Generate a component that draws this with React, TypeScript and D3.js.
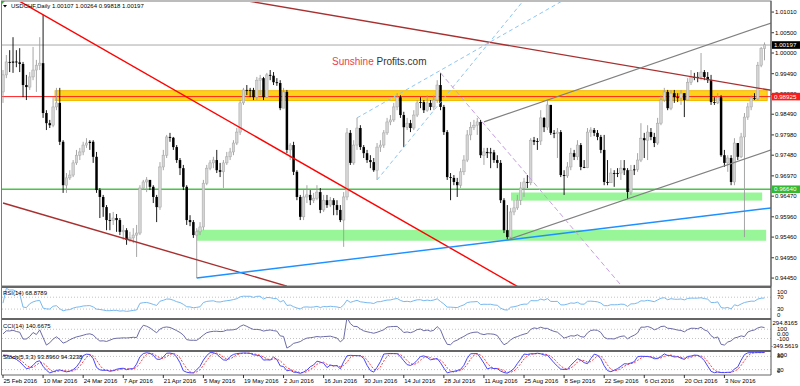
import React from 'react';
import * as d3 from 'd3';

// USDCHF daily, 25 Feb 2016 .. 17 Nov 2016 (6 bars a week, Sunday bars included)
const firstOpen = 0.9904;

const closes = [
  0.9946, 0.9978, 0.9976, 0.9979, 0.9977, 0.9973, 0.9921, 0.9916, 0.9941, 0.9958,
  0.9970, 0.9975, 0.9852, 0.9827, 0.9822, 0.9867, 0.9877, 0.9781, 0.9674, 0.9692,
  0.9699, 0.9729, 0.9748, 0.9756, 0.9773, 0.9778, 0.9781, 0.9744, 0.9662, 0.9645,
  0.9620, 0.9588, 0.9587, 0.9593, 0.9588, 0.9559, 0.9563, 0.9539, 0.9544, 0.9551,
  0.9556, 0.9667, 0.9682, 0.9687, 0.9670, 0.9645, 0.9620, 0.9719, 0.9748, 0.9793,
  0.9791, 0.9768, 0.9736, 0.9716, 0.9670, 0.9588, 0.9583, 0.9551, 0.9559, 0.9571,
  0.9679, 0.9716, 0.9729, 0.9736, 0.9711, 0.9707, 0.9729, 0.9744, 0.9756, 0.9778,
  0.9805, 0.9877, 0.9909, 0.9907, 0.9909, 0.9891, 0.9933, 0.9938, 0.9891, 0.9946,
  0.9944, 0.9928, 0.9926, 0.9864, 0.9904, 0.9761, 0.9773, 0.9707, 0.9645, 0.9596,
  0.9645, 0.9650, 0.9637, 0.9642, 0.9657, 0.9613, 0.9637, 0.9625, 0.9637, 0.9625,
  0.9613, 0.9588, 0.9645, 0.9803, 0.9729, 0.9773, 0.9815, 0.9768, 0.9753, 0.9736,
  0.9731, 0.9711, 0.9768, 0.9773, 0.9803, 0.9830, 0.9835, 0.9867, 0.9891, 0.9847,
  0.9817, 0.9827, 0.9815, 0.9847, 0.9877, 0.9879, 0.9859, 0.9877, 0.9867, 0.9884,
  0.9921, 0.9867, 0.9805, 0.9694, 0.9692, 0.9682, 0.9674, 0.9707, 0.9736, 0.9798,
  0.9817, 0.9822, 0.9830, 0.9748, 0.9756, 0.9753, 0.9755, 0.9736, 0.9729, 0.9637,
  0.9563, 0.9546, 0.9608, 0.9618, 0.9637, 0.9667, 0.9682, 0.9680, 0.9785, 0.9781,
  0.9783, 0.9840, 0.9817, 0.9872, 0.9803, 0.9801, 0.9805, 0.9699, 0.9697, 0.9719,
  0.9753, 0.9744, 0.9773, 0.9719, 0.9717, 0.9805, 0.9810, 0.9803, 0.9793, 0.9761,
  0.9682, 0.9680, 0.9704, 0.9702, 0.9704, 0.9716, 0.9711, 0.9657, 0.9711, 0.9713,
  0.9736, 0.9790, 0.9785, 0.9805, 0.9793, 0.9778, 0.9827, 0.9884, 0.9904, 0.9864,
  0.9901, 0.9891, 0.9889, 0.9901, 0.9884, 0.9928, 0.9941, 0.9939, 0.9941, 0.9953,
  0.9941, 0.9933, 0.9879, 0.9877, 0.9891, 0.9748, 0.9729, 0.9741, 0.9682, 0.9778,
  0.9744, 0.9793, 0.9842, 0.9867, 0.9889, 0.9887, 0.9970, 1.0011, 1.0020,
];

const highs = [
  0.9958, 0.9995, 1.0007, 1.0039, 1.0007, 1.0012, 0.9978, 0.9946, 0.9953, 1.0015,
  0.9983, 1.0039, 1.0094, 0.9859, 0.9835, 0.9891, 0.9914, 0.9914, 0.9785, 0.9704,
  0.9711, 0.9736, 0.9761, 0.9766, 0.9781, 0.9790, 0.9785, 0.9785, 0.9756, 0.9667,
  0.9650, 0.9625, 0.9605, 0.9608, 0.9603, 0.9593, 0.9576, 0.9568, 0.9559, 0.9568,
  0.9576, 0.9674, 0.9687, 0.9694, 0.9682, 0.9674, 0.9650, 0.9731, 0.9761, 0.9798,
  0.9803, 0.9793, 0.9773, 0.9741, 0.9724, 0.9674, 0.9600, 0.9588, 0.9568, 0.9583,
  0.9687, 0.9724, 0.9736, 0.9744, 0.9761, 0.9729, 0.9736, 0.9756, 0.9766, 0.9785,
  0.9815, 0.9884, 0.9914, 0.9921, 0.9914, 0.9914, 0.9941, 0.9946, 0.9941, 0.9951,
  0.9958, 0.9953, 0.9938, 0.9933, 0.9914, 0.9909, 0.9778, 0.9781, 0.9711, 0.9650,
  0.9662, 0.9674, 0.9662, 0.9655, 0.9674, 0.9667, 0.9650, 0.9650, 0.9645, 0.9642,
  0.9637, 0.9625, 0.9657, 0.9815, 0.9810, 0.9785, 0.9840, 0.9822, 0.9773, 0.9761,
  0.9748, 0.9741, 0.9778, 0.9785, 0.9810, 0.9840, 0.9847, 0.9877, 0.9901, 0.9896,
  0.9855, 0.9840, 0.9835, 0.9859, 0.9884, 0.9891, 0.9884, 0.9896, 0.9884, 0.9896,
  0.9933, 0.9951, 0.9872, 0.9810, 0.9704, 0.9699, 0.9692, 0.9716, 0.9748, 0.9810,
  0.9830, 0.9835, 0.9840, 0.9835, 0.9766, 0.9766, 0.9766, 0.9761, 0.9748, 0.9736,
  0.9642, 0.9625, 0.9618, 0.9637, 0.9650, 0.9682, 0.9692, 0.9699, 0.9790, 0.9793,
  0.9790, 0.9859, 0.9842, 0.9884, 0.9872, 0.9810, 0.9815, 0.9810, 0.9711, 0.9731,
  0.9766, 0.9761, 0.9785, 0.9778, 0.9736, 0.9815, 0.9817, 0.9815, 0.9810, 0.9798,
  0.9798, 0.9736, 0.9716, 0.9711, 0.9716, 0.9736, 0.9736, 0.9716, 0.9724, 0.9724,
  0.9753, 0.9827, 0.9803, 0.9822, 0.9815, 0.9803, 0.9840, 0.9896, 0.9914, 0.9909,
  0.9909, 0.9909, 0.9901, 0.9909, 0.9901, 0.9938, 0.9958, 0.9951, 0.9953, 1.0000,
  0.9958, 0.9953, 0.9946, 0.9891, 0.9901, 0.9896, 0.9761, 0.9748, 0.9748, 0.9790,
  0.9778, 0.9803, 0.9852, 0.9877, 0.9896, 0.9901, 0.9978, 1.0015, 1.0026,
];

const lows = [
  0.9877, 0.9938, 0.9953, 0.9951, 0.9965, 0.9953, 0.9891, 0.9884, 0.9909, 0.9933,
  0.9904, 0.9958, 0.9840, 0.9810, 0.9815, 0.9817, 0.9859, 0.9773, 0.9655, 0.9655,
  0.9687, 0.9694, 0.9724, 0.9736, 0.9748, 0.9766, 0.9761, 0.9729, 0.9655, 0.9593,
  0.9596, 0.9563, 0.9563, 0.9576, 0.9559, 0.9551, 0.9539, 0.9527, 0.9534, 0.9531,
  0.9497, 0.9551, 0.9662, 0.9657, 0.9662, 0.9630, 0.9583, 0.9613, 0.9711, 0.9741,
  0.9781, 0.9761, 0.9729, 0.9699, 0.9662, 0.9576, 0.9573, 0.9544, 0.9445, 0.9551,
  0.9563, 0.9674, 0.9711, 0.9716, 0.9704, 0.9694, 0.9667, 0.9724, 0.9736, 0.9748,
  0.9773, 0.9798, 0.9872, 0.9896, 0.9891, 0.9884, 0.9884, 0.9896, 0.9884, 0.9889,
  0.9933, 0.9921, 0.9919, 0.9859, 0.9864, 0.9753, 0.9736, 0.9699, 0.9637, 0.9588,
  0.9588, 0.9630, 0.9625, 0.9630, 0.9637, 0.9605, 0.9608, 0.9618, 0.9620, 0.9600,
  0.9600, 0.9583, 0.9522, 0.9637, 0.9724, 0.9724, 0.9761, 0.9761, 0.9741, 0.9729,
  0.9716, 0.9707, 0.9687, 0.9756, 0.9766, 0.9798, 0.9822, 0.9830, 0.9859, 0.9840,
  0.9768, 0.9810, 0.9805, 0.9810, 0.9842, 0.9864, 0.9852, 0.9855, 0.9859, 0.9859,
  0.9877, 0.9859, 0.9798, 0.9687, 0.9637, 0.9674, 0.9645, 0.9667, 0.9699, 0.9731,
  0.9785, 0.9810, 0.9798, 0.9741, 0.9724, 0.9741, 0.9716, 0.9729, 0.9716, 0.9630,
  0.9556, 0.9539, 0.9544, 0.9600, 0.9613, 0.9625, 0.9645, 0.9667, 0.9674, 0.9773,
  0.9761, 0.9773, 0.9805, 0.9810, 0.9798, 0.9790, 0.9741, 0.9694, 0.9650, 0.9692,
  0.9711, 0.9736, 0.9736, 0.9711, 0.9716, 0.9716, 0.9793, 0.9795, 0.9785, 0.9753,
  0.9674, 0.9674, 0.9687, 0.9670, 0.9694, 0.9687, 0.9699, 0.9640, 0.9650, 0.9699,
  0.9707, 0.9731, 0.9741, 0.9736, 0.9785, 0.9768, 0.9773, 0.9822, 0.9879, 0.9859,
  0.9859, 0.9877, 0.9879, 0.9872, 0.9842, 0.9884, 0.9921, 0.9933, 0.9928, 0.9933,
  0.9933, 0.9926, 0.9872, 0.9872, 0.9874, 0.9744, 0.9719, 0.9707, 0.9674, 0.9674,
  0.9736, 0.9741, 0.9546, 0.9835, 0.9859, 0.9884, 0.9884, 0.9965, 0.9982,
];

// one label every 12 bars
const dateLabels = [
  '25 Feb 2016', '10 Mar 2016', '24 Mar 2016', '7 Apr 2016', '21 Apr 2016',
  '5 May 2016', '19 May 2016', '2 Jun 2016', '16 Jun 2016', '30 Jun 2016',
  '14 Jul 2016', '28 Jul 2016', '11 Aug 2016', '25 Aug 2016', '8 Sep 2016',
  '22 Sep 2016', '6 Oct 2016', '20 Oct 2016', '3 Nov 2016',
];
const labelStep = 12;

const priceTicks = [
  '1.01010', '1.00500', '1.00000', '0.99490', '0.98980', '0.98490', '0.97980',
  '0.97480', '0.96970', '0.96470', '0.95960', '0.95460', '0.94950', '0.94450',
];

const lastPrice = 1.00197;
const redLevel = 0.98925;
const greenLevel = 0.9664;

// drawn objects: [bar, price] anchors
const brownUpper = [[60, 1.0147], [230, 0.9908]];
const brownLower = [[0, 0.963], [85, 0.9425]];
const redTrend = [[0, 1.0151], [160, 0.9396]];
const blueTrend = [[58, 0.9445], [230, 0.9618]];
const grayUpper = [[144, 0.983], [230, 1.0074]];
const grayLower = [[151, 0.9539], [230, 0.9761]];
const dashBlueA = [[106, 0.984], [168, 1.0131]];
const dashBlueB = [[112, 0.9687], [156, 1.0131]];
const dashPurple = [[131, 0.9951], [186, 0.9418]];

const yellowZone = { bars: [15.6, 228.8], prices: [0.9883, 0.9907] };
const greenZoneLow = { bars: [58.1, 228.5], prices: [0.9537, 0.9564] };
const greenZoneHigh = { bars: [152.1, 227.3], prices: [0.9636, 0.9656] };

const FONT = "'Liberation Sans', Arial, sans-serif";

function calcRSI(c: number[], n: number) {
  const out = [50];
  let ag = 0, al = 0;
  for (let i = 1; i < c.length; i++) {
    const ch = c[i] - c[i - 1];
    const k = Math.min(i, n);
    ag = (ag * (k - 1) + Math.max(ch, 0)) / k;
    al = (al * (k - 1) + Math.max(-ch, 0)) / k;
    out.push(al === 0 ? 100 : 100 - 100 / (1 + ag / al));
  }
  return out;
}

function calcCCI(h: number[], l: number[], c: number[], n: number) {
  const tp = c.map((v, i) => (h[i] + l[i] + v) / 3);
  return tp.map((v, i) => {
    const w = tp.slice(Math.max(0, i - n + 1), i + 1);
    const m = d3.mean(w) as number;
    const md = d3.mean(w, (t) => Math.abs(t - m)) as number;
    return md === 0 ? 0 : (v - m) / (0.015 * md);
  });
}

function calcStoch(h: number[], l: number[], c: number[], k: number, slow: number, d: number) {
  const num: number[] = [], den: number[] = [];
  c.forEach((v, i) => {
    const lo = d3.min(l.slice(Math.max(0, i - k + 1), i + 1)) as number;
    const hi = d3.max(h.slice(Math.max(0, i - k + 1), i + 1)) as number;
    num.push(v - lo);
    den.push(hi - lo);
  });
  const main = c.map((_, i) => {
    const a = d3.sum(num.slice(Math.max(0, i - slow + 1), i + 1));
    const b = d3.sum(den.slice(Math.max(0, i - slow + 1), i + 1));
    return b === 0 ? 50 : (a / b) * 100;
  });
  const signal = main.map((_, i) => d3.mean(main.slice(Math.max(0, i - d + 1), i + 1)) as number);
  return { main, signal };
}

const App: React.FC = () => {
  const W = 800, H = 386;
  const right = 771;

  const x = d3.scaleLinear().domain([0, closes.length - 1]).range([3, 764.5]);
  const y = d3.scaleLinear().domain([0.94254, 1.01258]).range([286, 2]);
  const rsiY = d3.scaleLinear().domain([0, 100]).range([318, 288.3]);
  const cciY = d3.scaleLinear().domain([-349.5619, 294.8165]).range([350, 320.3]);
  const stoY = d3.scaleLinear().domain([0, 100]).range([374, 352]);

  const bars = closes.map((c, i) => {
    const o = i === 0 ? firstOpen : closes[i - 1];
    return { o, c, h: Math.max(highs[i], o, c), l: Math.min(lows[i], o, c) };
  });
  const hh = bars.map((b) => b.h);
  const ll = bars.map((b) => b.l);

  const rsi = calcRSI(closes, 14);
  const cci = calcCCI(hh, ll, closes, 14);
  const sto = calcStoch(hh, ll, closes, 5, 3, 3);

  const seg = (pts: number[][]) =>
    d3.line<number[]>().x((p) => x(p[0])).y((p) => y(p[1]))(pts) || '';
  const ind = (vals: number[], sc: d3.ScaleLinear<number, number>) =>
    d3.line<number>().x((_, i) => x(i)).y((v) => sc(v))(vals) || '';

  const zone = (z: { bars: number[]; prices: number[] }, fill: string, stroke?: string) => (
    <rect
      x={x(z.bars[0])}
      y={y(z.prices[1])}
      width={x(z.bars[1]) - x(z.bars[0])}
      height={y(z.prices[0]) - y(z.prices[1])}
      fill={fill}
      stroke={stroke || 'none'}
      strokeWidth={1}
    />
  );

  const priceBox = (v: number, fill: string, label: string) => (
    <g>
      <rect x={right + 1} y={y(v) - 3.8} width={28} height={7.6} fill={fill} />
      <text x={right + 3} y={y(v) + 2.2} fontSize={6.2} fill="#fff" fontFamily={FONT}>{label}</text>
    </g>
  );

  const sideLabel = (txt: string, yy: number, dx = 6) => (
    <text key={txt + yy} x={right + dx} y={yy + 2} fontSize={6} fill="#000" fontFamily={FONT}>{txt}</text>
  );

  return (
    <svg width={W} height={H} style={{ position: 'absolute', left: 0, top: 0, background: '#fff' }}>
      <defs>
        <clipPath id="mainClip"><rect x={2} y={2} width={right - 2} height={284} /></clipPath>
        <clipPath id="rsiClip"><rect x={2} y={288} width={right - 2} height={30} /></clipPath>
        <clipPath id="cciClip"><rect x={2} y={320} width={right - 2} height={30} /></clipPath>
        <clipPath id="stoClip"><rect x={2} y={352} width={right - 2} height={22} /></clipPath>
      </defs>

      {/* main price window */}
      <g clipPath="url(#mainClip)">
        {zone(greenZoneLow, '#98f598')}
        {zone(greenZoneHigh, '#98f598')}
        {zone(yellowZone, '#ffd21a', '#f7b500')}
        <line x1={0} x2={right} y1={y(lastPrice)} y2={y(lastPrice)} stroke="#a8a8a8" strokeWidth={1} />
        <line x1={0} x2={right} y1={y(redLevel)} y2={y(redLevel)} stroke="#ff2020" strokeWidth={1} />
        <line x1={0} x2={right} y1={y(greenLevel)} y2={y(greenLevel)} stroke="#4cc44c" strokeWidth={1.6} />

        {bars.map((b, i) => {
          const cx = x(i);
          const bull = b.c >= b.o;
          const top = y(Math.max(b.o, b.c));
          const bh = Math.max(y(Math.min(b.o, b.c)) - top, 0.9);
          const doji = Math.abs(b.c - b.o) < 0.0003;
          return (
            <g key={i}>
              <line x1={cx} x2={cx} y1={y(b.h)} y2={y(b.l)} stroke={bull && !doji ? '#9c9c9c' : '#000'} strokeWidth={0.9} />
              <rect
                x={cx - 1.25}
                y={top}
                width={2.5}
                height={bh}
                fill={doji ? '#000' : bull ? '#d4d4d4' : '#000'}
                stroke={bull && !doji ? '#a4a4a4' : 'none'}
                strokeWidth={0.5}
              />
            </g>
          );
        })}

        <path d={seg(brownLower)} stroke="#a83030" strokeWidth={1.4} fill="none" />
        <path d={seg(brownUpper)} stroke="#a83030" strokeWidth={1.4} fill="none" />
        <path d={seg(redTrend)} stroke="#ff0000" strokeWidth={1.4} fill="none" />
        <path d={seg(blueTrend)} stroke="#1e90ff" strokeWidth={1.4} fill="none" />
        <path d={seg(grayUpper)} stroke="#808080" strokeWidth={1.2} fill="none" />
        <path d={seg(grayLower)} stroke="#808080" strokeWidth={1.2} fill="none" />
        <path d={seg(dashBlueA)} stroke="#8cc6f5" strokeWidth={1} strokeDasharray="4,3" fill="none" />
        <path d={seg(dashBlueB)} stroke="#8cc6f5" strokeWidth={1} strokeDasharray="4,3" fill="none" />
        <path d={seg(dashPurple)} stroke="#c6a0e0" strokeWidth={1} strokeDasharray="5,3" fill="none" />
      </g>

      <text x={332} y={65} fontSize={10} fontFamily={FONT}>
        <tspan fill="#e8434b">Sunshine </tspan>
        <tspan fill="#333">Profits.com</tspan>
      </text>

      <path d="M3,5 L7,5 L5,7.5 Z" fill="#000" />
      <path d="M1,1 L5,1 L1,5 Z" fill="#3cb43c" />
      <text x={11} y={8} fontSize={6} fontFamily={FONT} fill="#000">
        USDCHF,Daily  1.00107 1.00264 0.99818 1.00197
      </text>

      {/* price axis */}
      {priceTicks.map((t) => (
        <g key={t}>
          <line x1={right} x2={right + 3} y1={y(+t)} y2={y(+t)} stroke="#000" strokeWidth={0.8} />
          <text x={right + 4} y={y(+t) + 2.1} fontSize={6} fontFamily={FONT} fill="#000">{t}</text>
        </g>
      ))}
      {priceBox(lastPrice, '#000', '1.00197')}
      {priceBox(redLevel, '#ff1a1a', '0.98925')}
      {priceBox(greenLevel, '#33b833', '0.96640')}

      {/* RSI */}
      {[70, 30].map((v) => (
        <line key={v} x1={2} x2={right} y1={rsiY(v)} y2={rsiY(v)} stroke="#b4b4b4" strokeDasharray="1,2" strokeWidth={0.8} />
      ))}
      <g clipPath="url(#rsiClip)">
        <path d={ind(rsi, rsiY)} stroke="#78b8f0" strokeWidth={1} fill="none" />
      </g>
      <text x={3} y={294.5} fontSize={6} fontFamily={FONT}>RSI(14) 68.8789</text>
      {sideLabel('100', 291.7)}
      {sideLabel('70', 297.3)}
      {sideLabel('30', 309.3)}
      {sideLabel('0', 315)}

      {/* CCI */}
      {[100, -100].map((v) => (
        <line key={v} x1={2} x2={right} y1={cciY(v)} y2={cciY(v)} stroke="#b4b4b4" strokeDasharray="1,2" strokeWidth={0.8} />
      ))}
      <g clipPath="url(#cciClip)">
        <path d={ind(cci, cciY)} stroke="#6c6ca8" strokeWidth={1} fill="none" />
      </g>
      <text x={3} y={327.5} fontSize={6} fontFamily={FONT}>CCI(14) 140.6675</text>
      {sideLabel('294.8165', 323.3, 1.5)}
      {sideLabel('100', 329.3)}
      {sideLabel('0.00', 333.7)}
      {sideLabel('-100', 338.7)}
      {sideLabel('-349.5619', 346.3, 0)}

      {/* Stochastic */}
      {[80, 20].map((v) => (
        <line key={v} x1={2} x2={right} y1={stoY(v)} y2={stoY(v)} stroke="#b4b4b4" strokeDasharray="1,2" strokeWidth={0.8} />
      ))}
      <g clipPath="url(#stoClip)">
        <path d={ind(sto.signal, stoY)} stroke="#ff4040" strokeWidth={1} strokeDasharray="2,1.5" fill="none" />
        <path d={ind(sto.main, stoY)} stroke="#4646ff" strokeWidth={1} fill="none" />
      </g>
      <text x={3} y={359} fontSize={6} fontFamily={FONT}>Stoch(5,3,3) 93.8960 94.3238</text>
      {sideLabel('100', 355.2)}
      {sideLabel('80', stoY(80))}
      {sideLabel('20', stoY(20))}
      {sideLabel('0', 371)}

      {/* frames */}
      <rect x={1.5} y={1} width={right - 1.5} height={285} fill="none" stroke="#7a7a7a" strokeWidth={1} />
      <line x1={1.5} x2={right} y1={287} y2={287} stroke="#666" strokeWidth={2} />
      <line x1={1.5} x2={right} y1={319} y2={319} stroke="#666" strokeWidth={2} />
      <line x1={1.5} x2={right} y1={351} y2={351} stroke="#666" strokeWidth={2} />
      <line x1={1.5} x2={right} y1={375} y2={375} stroke="#666" strokeWidth={1} />
      <line x1={1.5} x2={1.5} y1={1} y2={375} stroke="#7a7a7a" strokeWidth={1} />
      <line x1={right} x2={right} y1={1} y2={375} stroke="#555" strokeWidth={1} />

      {/* time axis */}
      {dateLabels.map((t, k) => (
        <g key={t}>
          <line x1={x(k * labelStep)} x2={x(k * labelStep)} y1={375} y2={378} stroke="#000" strokeWidth={0.8} />
          <text x={x(k * labelStep) + 0.5} y={382.5} fontSize={6} fontFamily={FONT} fill="#000">{t}</text>
        </g>
      ))}
    </svg>
  );
};

export default App;
